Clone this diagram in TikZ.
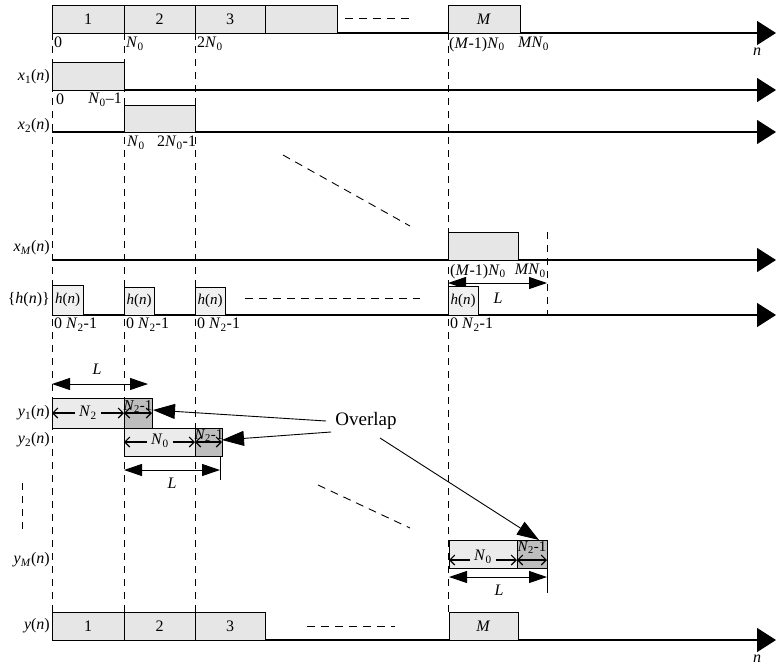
\documentclass[tikz,border=0pt]{standalone}
\usepackage{fontspec}
\setmainfont{Liberation Serif}
\usetikzlibrary{arrows.meta}
\definecolor{boxgray}{HTML}{E6E6E6}
\definecolor{hgray}{HTML}{F0F0F0}
\definecolor{lightgray2}{HTML}{EBEBEB}
\definecolor{darkgray2}{HTML}{BEBEBE}
\newcommand{\lbl}{\fontsize{16}{18}\selectfont}
\newcommand{\sml}{\fontsize{15}{17}\selectfont}
\newcommand{\iv}[1]{\textit{#1}}
\newcommand{\sbs}[1]{\textsubscript{#1}}
\begin{document}
\begin{tikzpicture}[x=1pt,y=-1pt,
  seg/.style={draw, line width=0.9pt, fill=boxgray, inner sep=0pt, outer sep=0pt, anchor=south west, font=\lbl},
  hbox/.style={seg, fill=hgray, font=\sml},
  lt/.style={seg, fill=lightgray2},
  dk/.style={seg, fill=darkgray2},
  lab/.style={inner sep=0pt, font=\lbl},
  slab/.style={inner sep=0pt, font=\sml},
  axis/.style={line width=1.3pt, -{Triangle[length=19pt,width=24pt]}},
  vdash/.style={line width=0.9pt, dash pattern=on 7pt off 6pt},
  hdash/.style={line width=0.9pt, dash pattern=on 8pt off 6pt},
  Lar/.style={line width=1pt, {Triangle[length=18pt,width=12pt]}-{Triangle[length=18pt,width=12pt]}},
  inar/.style={line width=1.1pt, {Straight Barb[length=5pt,width=10pt]}-{Straight Barb[length=5pt,width=10pt]}},
  ovar/.style={line width=0.9pt, -{Triangle[length=22pt,width=15pt]}},
  tick/.style={line width=1pt}
]
\useasboundingbox (0,0) rectangle (776,667);

% vertical dashed guides
\foreach \n/\xx in {v0/52, v1/124, v2/195, vM/448} {
  \coordinate (\n t) at (\xx,33);
  \coordinate (\n b) at (\xx,612);
  \draw[vdash] (\n t) -- (\n b);
}
\coordinate (vrt) at (547,232); \coordinate (vrb) at (547,315);
\draw[vdash] (vrt) -- (vrb);
\coordinate (vlt) at (22,483); \coordinate (vlb) at (22,535);
\draw[vdash] (vlt) -- (vlb);

% axes
\foreach \n/\yy in {a0/33, a1/90, a2/132, aM/260, ah/315, ay/640} {
  \coordinate (\n s) at (52,\yy);
  \coordinate (\n e) at (776,\yy);
  \draw[axis] (\n s) -- (\n e);
}

% top row
\node[seg, minimum width=72pt, minimum height=28pt] (t1) at (52,33) {1};
\node[seg, minimum width=71pt, minimum height=28pt] (t2) at (124,33) {2};
\node[seg, minimum width=70pt, minimum height=28pt] (t3) at (195,33) {3};
\node[seg, minimum width=72pt, minimum height=28pt] (t4) at (265,33) {};
\node[seg, minimum width=72pt, minimum height=28pt] (tM) at (448,33) {\iv{M}};
\coordinate (d0a) at (345,18); \coordinate (d0b) at (410,18);
\draw[hdash] (d0a) -- (d0b);
\node[lab, anchor=north west] (l00) at (54,37) {0};
\node[lab, anchor=north west] (l01) at (126,37) {\iv{N}\sbs{0}};
\node[lab, anchor=north west] (l02) at (197,37) {2\iv{N}\sbs{0}};
\node[lab, anchor=north west] (l0M) at (449,37) {(\iv{M}-1)\iv{N}\sbs{0}};
\node[lab, anchor=north west] (l0MN) at (518,37) {\iv{MN}\sbs{0}};
\node[lab] (n1) at (757,52) {\iv{n}};

% x1
\node[seg, minimum width=72pt, minimum height=28pt] (x1b) at (52,90) {};
\node[lab, anchor=east] (x1l) at (50,77) {\iv{x}\sbs{1}(\iv{n})};
\node[lab, anchor=north west] (x1a) at (56,94) {0};
\node[lab, anchor=north east] (x1c) at (122,93) {\iv{N}\sbs{0}\textendash1};

% x2
\node[seg, minimum width=71pt, minimum height=27pt] (x2b) at (124,132) {};
\node[lab, anchor=east] (x2l) at (50,126) {\iv{x}\sbs{2}(\iv{n})};
\node[lab, anchor=north west] (x2a) at (127,136) {\iv{N}\sbs{0}};
\node[lab, anchor=north west] (x2c) at (157,136) {2\iv{N}\sbs{0}-1};

% diagonal dots
\coordinate (dg1a) at (283,155); \coordinate (dg1b) at (410,226);
\draw[hdash] (dg1a) -- (dg1b);

% xM
\node[seg, minimum width=70pt, minimum height=28pt] (xMb) at (448,260) {};
\node[lab, anchor=east] (xMl) at (50,248) {\iv{x}\sbs{\iv{M}}(\iv{n})};
\node[lab, anchor=north west] (xMa) at (450,264) {(\iv{M}-1)\iv{N}\sbs{0}};
\node[lab, anchor=north east] (xMc) at (546,264) {\iv{MN}\sbs{0}};
\coordinate (LMa) at (448,283); \coordinate (LMb) at (547,283);
\draw[Lar] (LMa) -- (LMb);
\node[lab] (LMl) at (498,298) {\iv{L}};

% h(n)
\node[hbox, minimum width=31pt, minimum height=30pt] (h1) at (52,315) {\iv{h}(\iv{n})};
\node[hbox, minimum width=30pt, minimum height=28pt] (h2) at (124,315) {\iv{h}(\iv{n})};
\node[hbox, minimum width=30pt, minimum height=28pt] (h3) at (195,315) {\iv{h}(\iv{n})};
\node[hbox, minimum width=30pt, minimum height=29pt] (hM) at (448,315) {\iv{h}(\iv{n})};
\node[lab, anchor=east] (hl) at (50,300) {\{\iv{h}(\iv{n})\}};
\coordinate (dha) at (245,298); \coordinate (dhb) at (420,298);
\draw[hdash] (dha) -- (dhb);
\foreach \n/\xx in {hl1/54, hl2/126, hl3/197, hlM/450} {
  \node[lab, anchor=north west] (\n) at (\xx,318) {0 \iv{N}\sbs{2}-1};
}

% y1
\coordinate (L1a) at (52,384); \coordinate (L1b) at (148,384);
\draw[Lar] (L1a) -- (L1b);
\node[lab] (L1l) at (97,369) {\iv{L}};
\node[lt, minimum width=72pt, minimum height=30pt] (y1a) at (52,428) {};
\node[dk, minimum width=28pt, minimum height=30pt] (y1d) at (124,428) {};
\coordinate (i1a) at (52,413); \coordinate (i1b) at (124,413); \coordinate (i1c) at (152,413);
\draw[inar] (i1a) -- (i1b);
\draw[inar] (i1b) -- (i1c);
\node[lab, fill=lightgray2, inner xsep=4pt] (y1n) at (88,413) {\iv{N}\sbs{2}};
\node[slab, anchor=north] (y1o) at (138,400) {\iv{N}\sbs{2}-1};
\node[lab, anchor=east] (y1l) at (50,413) {\iv{y}\sbs{1}(\iv{n})};

% y2
\node[lt, minimum width=71pt, minimum height=28pt] (y2a) at (124,456) {};
\node[dk, minimum width=27pt, minimum height=28pt] (y2d) at (195,456) {};
\coordinate (i2a) at (124,442); \coordinate (i2b) at (195,442); \coordinate (i2c) at (222,442);
\draw[inar] (i2a) -- (i2b);
\draw[inar] (i2b) -- (i2c);
\node[lab, fill=lightgray2, inner xsep=4pt] (y2n) at (160,441) {\iv{N}\sbs{0}};
\node[slab, anchor=north] (y2o) at (209,429) {\iv{N}\sbs{2}-1};
\node[lab, anchor=east] (y2l) at (50,440) {\iv{y}\sbs{2}(\iv{n})};
\coordinate (L2a) at (124,470); \coordinate (L2b) at (220,470);
\draw[Lar] (L2a) -- (L2b);
\coordinate (t2a) at (220,456); \coordinate (t2b) at (220,480);
\draw[tick] (t2a) -- (t2b);
\node[lab] (L2l) at (172,483) {\iv{L}};

% overlap
\node[inner sep=0pt, font=\fontsize{19}{21}\selectfont] (ov) at (366,421) {Overlap};
\coordinate (o1s) at (326,421); \coordinate (o1e) at (153,410);
\coordinate (o2s) at (331,432); \coordinate (o2e) at (222,440);
\coordinate (o3s) at (380,438); \coordinate (o3e) at (539,540);
\draw[ovar] (o1s) -- (o1e);
\draw[ovar] (o2s) -- (o2e);
\draw[ovar] (o3s) -- (o3e);

% diagonal dots 2
\coordinate (dg2a) at (318,485); \coordinate (dg2b) at (410,528);
\draw[hdash] (dg2a) -- (dg2b);

% yM
\node[lt, minimum width=68pt, minimum height=28pt] (yMa) at (449,568) {};
\node[dk, minimum width=30pt, minimum height=28pt] (yMd) at (517,568) {};
\coordinate (iMa) at (449,560); \coordinate (iMb) at (517,560); \coordinate (iMc) at (547,560);
\draw[inar] (iMa) -- (iMb);
\draw[inar] (iMb) -- (iMc);
\node[lab, fill=lightgray2, inner xsep=4pt] (yMn) at (483,557) {\iv{N}\sbs{0}};
\node[slab, anchor=north] (yMo) at (532,541) {\iv{N}\sbs{2}-1};
\node[lab, anchor=east] (yMl) at (50,560) {\iv{y}\sbs{\iv{M}}(\iv{n})};
\coordinate (LMMa) at (449,577); \coordinate (LMMb) at (547,577);
\draw[Lar] (LMMa) -- (LMMb);
\coordinate (tMa) at (547,568); \coordinate (tMb) at (547,593);
\draw[tick] (tMa) -- (tMb);
\node[lab] (LMMl) at (499,590) {\iv{L}};

% y(n)
\node[seg, minimum width=72pt, minimum height=28pt] (yb1) at (52,640) {1};
\node[seg, minimum width=71pt, minimum height=28pt] (yb2) at (124,640) {2};
\node[seg, minimum width=70pt, minimum height=28pt] (yb3) at (195,640) {3};
\node[seg, minimum width=69pt, minimum height=28pt] (ybM) at (449,640) {\iv{M}};
\node[lab, anchor=east] (yl) at (50,626) {\iv{y}(\iv{n})};
\coordinate (dya) at (307,626); \coordinate (dyb) at (395,626);
\draw[hdash] (dya) -- (dyb);
\node[lab] (n2) at (757,659) {\iv{n}};
\end{tikzpicture}
\end{document}
